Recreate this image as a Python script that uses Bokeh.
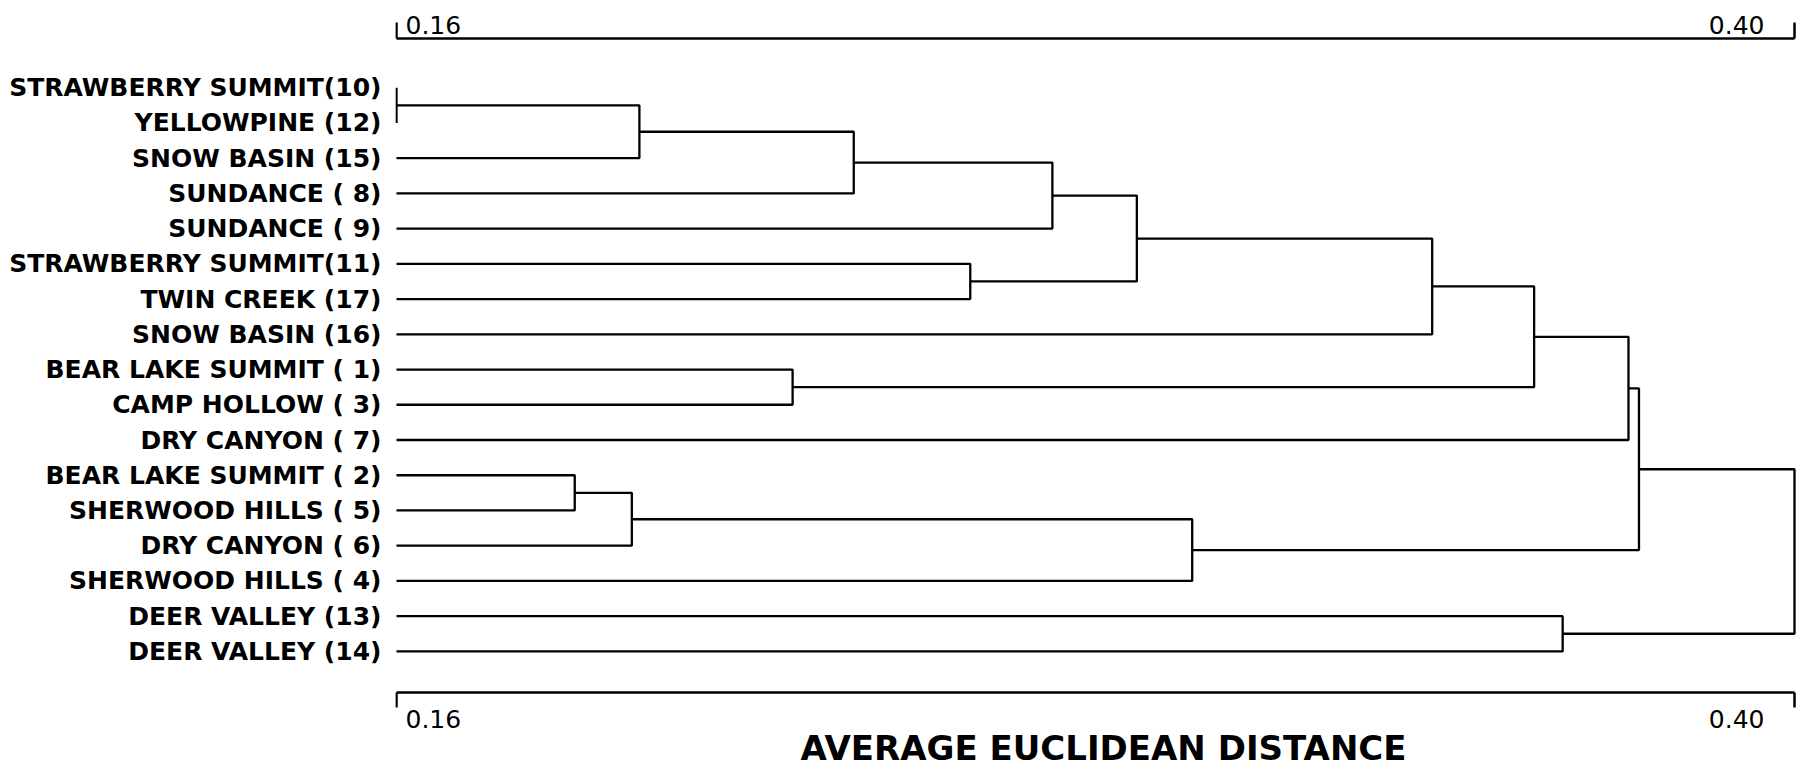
from bokeh.plotting import figure
from bokeh.models import Range1d, LinearAxis, FixedTicker, ColumnDataSource
from bokeh.core.properties import value
from bokeh.embed import file_html
from bokeh.resources import INLINE

# ---- data -------------------------------------------------------------
leaf_labels = [
    "STRAWBERRY SUMMIT(10)", "YELLOWPINE (12)", "SNOW BASIN (15)",
    "SUNDANCE ( 8)", "SUNDANCE ( 9)", "STRAWBERRY SUMMIT(11)",
    "TWIN CREEK (17)", "SNOW BASIN (16)", "BEAR LAKE SUMMIT ( 1)",
    "CAMP HOLLOW ( 3)", "DRY CANYON ( 7)", "BEAR LAKE SUMMIT ( 2)",
    "SHERWOOD HILLS ( 5)", "DRY CANYON ( 6)", "SHERWOOD HILLS ( 4)",
    "DEER VALLEY (13)", "DEER VALLEY (14)",
]
# merges: leaves are 0..16 (top to bottom), merged clusters get ids 17, 18, ...
merge_left = [0, 17, 18, 19, 5, 20, 22, 8, 23, 25, 11, 27, 28, 26, 15, 30]
merge_right = [1, 2, 3, 4, 6, 21, 7, 9, 24, 10, 12, 13, 14, 29, 16, 31]
merge_height = [0.160, 0.2017, 0.2385, 0.2726, 0.2585, 0.2871, 0.3378, 0.2280,
                0.3553, 0.3715, 0.1906, 0.2004, 0.2966, 0.3733, 0.3602, 0.400]

axis_ticks = [0.16, 0.40]
axis_tick_labels = ["0.16", "0.40"]
axis_title = "AVERAGE EUCLIDEAN DISTANCE"
axis_min = 0.16

# ---- build dendrogram paths -------------------------------------------
n = len(leaf_labels)
node_y = [float(i) for i in range(n)]
node_h = [axis_min] * n
xs, ys = [], []
for a, b, h in zip(merge_left, merge_right, merge_height):
    ya, yb = node_y[a], node_y[b]
    xs.append([node_h[a], h, h, node_h[b]])
    ys.append([ya, ya, yb, yb])
    node_y.append((ya + yb) / 2.0)
    node_h.append(h)

# ---- layout constants (pixels) ----------------------------------------
W, H = 1800, 770
FRAME_LEFT = 395
X0_PX, X1_PX = 396.0, 1794.0          # where 0.16 and 0.40 sit
ROW0_PX, ROW_STEP = 87.2, 35.23        # first leaf row and leaf spacing
sx = (axis_ticks[1] - axis_ticks[0]) / (X1_PX - X0_PX)


def yv(px):
    """pixel row from top -> leaf-index units"""
    return (px - ROW0_PX) / ROW_STEP


p = figure(width=W, height=H,
           x_range=Range1d(axis_ticks[0] - (X0_PX - FRAME_LEFT) * sx,
                           axis_ticks[1] + (W - X1_PX) * sx),
           y_range=Range1d(yv(H), yv(0)),
           output_backend="svg", toolbar_location=None,
           x_axis_location=None, y_axis_location=None,
           min_border_left=FRAME_LEFT, min_border_right=0,
           min_border_top=0, min_border_bottom=0)
p.grid.visible = False
p.outline_line_color = None
p.background_fill_color = "white"
p.border_fill_color = "white"

src = ColumnDataSource(dict(xs=xs, ys=ys))
p.multi_line(xs="xs", ys="ys", source=src, line_color="black", line_width=2.3)

# ---- scale bars above and below (distance axes) -----------------------
bars = [  # (bar y px, tick end y px, label centre y px)
    (38.0, 22.0, 24.0),
    (692.0, 707.0, 718.0),
]
for bar_px, tick_px, lab_px in bars:
    p.segment(x0=[axis_ticks[0]], y0=[yv(bar_px)], x1=[axis_ticks[1]], y1=[yv(bar_px)],
              line_color="black", line_width=2.5)
    p.segment(x0=axis_ticks, y0=[yv(bar_px)] * 2, x1=axis_ticks, y1=[yv(tick_px)] * 2,
              line_color="black", line_width=2.5)
    p.text(x=[axis_ticks[0]], y=[yv(lab_px)], text=[axis_tick_labels[0]],
           x_offset=9, text_align="left", text_baseline="middle",
           text_font=value("DejaVu Sans"),
           text_font_size="25px", text_color="black")
    p.text(x=[axis_ticks[1]], y=[yv(lab_px)], text=[axis_tick_labels[1]],
           x_offset=-30, text_align="right", text_baseline="middle",
           text_font=value("DejaVu Sans"),
           text_font_size="25px", text_color="black")

# axis title, centred under the distance scale
p.text(x=[(axis_ticks[0] + axis_ticks[1]) / 2], y=[yv(747)], text=[axis_title],
       x_offset=8, text_align="center", text_baseline="middle",
       text_font=value("DejaVu Sans"), text_font_style="bold",
       text_font_size="34px", text_color="black")

# ---- leaf labels on a left axis ---------------------------------------
left = LinearAxis(ticker=FixedTicker(ticks=list(range(n)), minor_ticks=[]),
                  major_label_overrides={i: leaf_labels[i] for i in range(n)},
                  axis_line_color=None, major_tick_line_color=None,
                  minor_tick_line_color=None,
                  major_tick_out=0, major_tick_in=0,
                  major_label_standoff=14,
                  major_label_text_font="DejaVu Sans",
                  major_label_text_font_style="bold",
                  major_label_text_font_size="25px",
                  major_label_text_color="black")
p.add_layout(left, "left")

open("out.html", "w").write(file_html(p, INLINE))
